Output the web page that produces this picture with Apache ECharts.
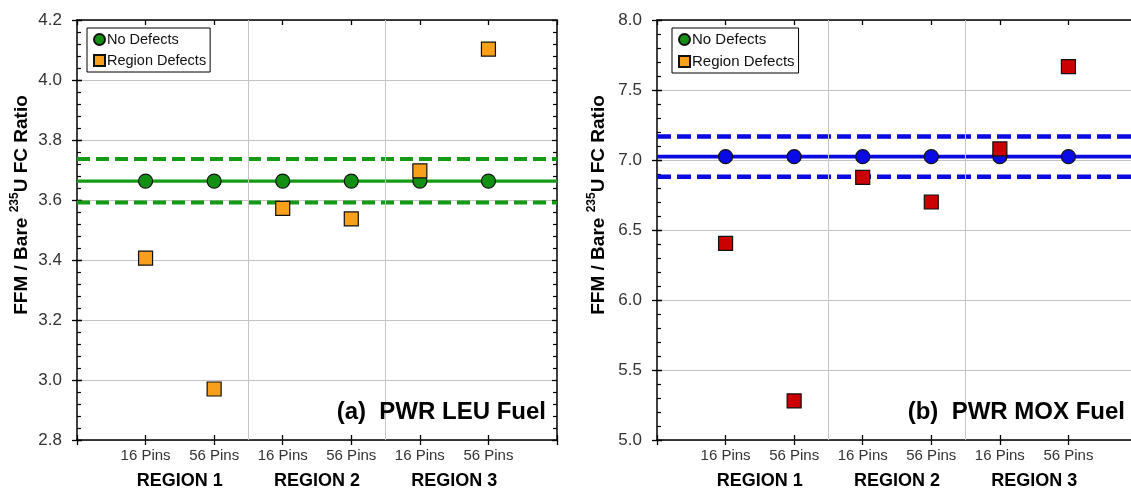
<!DOCTYPE html>
<html>
<head>
<meta charset="utf-8">
<script src="https://cdn.jsdelivr.net/npm/echarts@6/dist/echarts.min.js"></script>
<style>
html,body{margin:0;padding:0;background:#fff;}
#chart{width:1131px;height:492px;}
</style>
</head>
<body>
<div id="chart"></div>
<script>
// ---- data ----
const pinLabels = ['16 Pins', '56 Pins', '16 Pins', '56 Pins', '16 Pins', '56 Pins'];
const regionLabels = ['REGION 1', 'REGION 2', 'REGION 3'];
const xPositions = [1, 2, 3, 4, 5, 6];
const regionSeparators = [2.5, 4.5];

const leuNoDefects = [3.663, 3.663, 3.663, 3.663, 3.663, 3.663];
const leuRegionDefects = [3.406, 2.970, 3.572, 3.537, 3.697, 4.103];
const leuMean = 3.663, leuUpper = 3.737, leuLower = 3.592;
const leuYRange = [2.8, 4.2, 0.2];

const moxNoDefects = [7.024, 7.024, 7.024, 7.024, 7.024, 7.024];
const moxRegionDefects = [6.405, 5.279, 6.876, 6.700, 7.079, 7.667];
const moxMean = 7.024, moxUpper = 7.167, moxLower = 6.881;
const moxYRange = [5.0, 8.0, 0.5];

const FONT = '"Liberation Sans", Arial, sans-serif';

const chart = echarts.init(document.getElementById('chart'));

const xAxes = [], yAxes = [], series = [];

function addPanel(g, yRange, noDef, regDef, mean, upper, lower, cfg) {
  const xb = xAxes.length, yb = yAxes.length;
  const xMax = cfg.xMax;
  const baseX = {gridIndex: g, type: 'value', min: 0, max: xMax, interval: 1,
    splitLine: {show: false}, axisLine: {show: false}, axisTick: {show: false}, axisLabel: {show: false}};
  // bottom: outside ticks + pin labels
  xAxes.push(Object.assign({}, baseX, {position: 'bottom',
    axisLine: {show: true, onZero: false, lineStyle: {color: '#000', width: 1.5}},
    axisTick: {show: true, length: 5, lineStyle: {color: '#000', width: 1.3}},
    axisLabel: {show: true, margin: 8, fontSize: 15, color: '#333', fontFamily: FONT,
      formatter: v => { const k = Math.round(v); return (Math.abs(v - k) < 1e-6 && k >= 1 && k <= 6) ? pinLabels[k - 1] : ''; }}}));
  // bottom inside ticks
  xAxes.push(Object.assign({}, baseX, {position: 'bottom',
    axisTick: {show: true, inside: true, length: 5, lineStyle: {color: '#000', width: 1.3}}}));
  // top axis
  xAxes.push(Object.assign({}, baseX, {position: 'top',
    axisLine: {show: true, onZero: false, lineStyle: {color: '#000', width: 1.5}},
    axisTick: {show: true, inside: true, length: 5, lineStyle: {color: '#000', width: 1.3}}}));
  // region labels
  xAxes.push(Object.assign({}, baseX, {position: 'bottom', interval: 0.5,
    axisLabel: {show: true, margin: 32, fontSize: 18, fontWeight: 'bold', color: '#000', fontFamily: FONT,
      formatter: v => { const k = Math.round(v * 2); return (k % 4 === 3) ? regionLabels[(k - 3) / 4] : ''; }}}));

  const baseY = {gridIndex: g, type: 'value', min: yRange[0], max: yRange[1], interval: yRange[2],
    splitLine: {show: false}, axisLine: {show: false}, axisTick: {show: false}, axisLabel: {show: false}};
  yAxes.push(Object.assign({}, baseY, {position: 'left',
    axisLine: {show: true, onZero: false, lineStyle: {color: '#000', width: 1.5}},
    axisTick: {show: true, length: 5, lineStyle: {color: '#000', width: 1.3}},
    splitLine: {show: true, lineStyle: {color: '#c4c4c4', width: 1}},
    axisLabel: {show: true, margin: 15, fontSize: 17, color: '#333', fontFamily: FONT,
      formatter: v => v.toFixed(1)}}));
  yAxes.push(Object.assign({}, baseY, {position: 'left',
    axisTick: {show: true, inside: true, length: 5, lineStyle: {color: '#000', width: 1.3}},
    minorTick: {show: true, splitNumber: 5, length: 4, lineStyle: {color: '#000', width: 1.2}}}));
  yAxes.push(Object.assign({}, baseY, {position: 'right',
    axisLine: {show: true, onZero: false, lineStyle: {color: '#000', width: 1.5}},
    axisTick: {show: true, inside: true, length: 5, lineStyle: {color: '#000', width: 1.3}},
    minorTick: {show: true, splitNumber: 5, length: 4, lineStyle: {color: '#000', width: 1.2}}}));
  yAxes.push(Object.assign({}, baseY, {position: 'right',
    axisTick: {show: true, length: 5, lineStyle: {color: '#000', width: 1.3}}}));

  const ax = {xAxisIndex: xb, yAxisIndex: yb};
  // region separators
  series.push(Object.assign({type: 'line', name: 'sep', data: [], silent: true,
    markLine: {silent: true, symbol: 'none', label: {show: false},
      lineStyle: {color: '#c4c4c4', type: 'solid', width: 1},
      data: regionSeparators.map(s => ({xAxis: s}))}}, ax));
  const lineDef = (name, v, type, w) => Object.assign({type: 'line', name: name, silent: true,
    showSymbol: false, symbol: 'none', data: [[0, v], [xMax, v]],
    lineStyle: {color: cfg.lineColor, width: w, type: type}, z: 3}, ax);
  series.push(lineDef('upper', upper, cfg.dash, cfg.dashWidth));
  series.push(lineDef('lower', lower, cfg.dash, cfg.dashWidth));
  series.push(lineDef('mean', mean, 'solid', cfg.solidWidth));
  series.push(Object.assign({type: 'scatter', name: 'No Defects', symbol: 'circle', symbolSize: 14,
    data: xPositions.map((x, i) => [x, noDef[i]]),
    itemStyle: {color: cfg.circleColor, borderColor: '#111', borderWidth: 1.2, opacity: 1}, z: 4}, ax));
  series.push(Object.assign({type: 'scatter', name: 'Region Defects', symbol: 'rect', symbolSize: 14,
    data: xPositions.map((x, i) => [x, regDef[i]]),
    itemStyle: {color: cfg.squareColor, borderColor: '#111', borderWidth: 1.2, opacity: 1}, z: 5}, ax));
}

addPanel(0, leuYRange, leuNoDefects, leuRegionDefects, leuMean, leuUpper, leuLower,
  {xMax: 7, lineColor: '#159a15', circleColor: '#139013', squareColor: '#f8a01c', dash: [13, 6], dashWidth: 4, solidWidth: 3.2});
addPanel(1, moxYRange, moxNoDefects, moxRegionDefects, moxMean, moxUpper, moxLower,
  {xMax: 7, lineColor: '#0a0ae0', circleColor: '#0a0ae6', squareColor: '#cc0000', dash: [14, 6], dashWidth: 4.5, solidWidth: 3.8});

function yTitle(x) {
  return {type: 'text', x: x, y: 205, rotation: Math.PI / 2, z: 10,
    style: {text: '{b|FFM / Bare }{s|235}{b|U FC Ratio}', align: 'center', verticalAlign: 'middle',
      rich: {b: {fontSize: 19, fontWeight: 'bold', fontFamily: FONT, fill: '#000', lineHeight: 22, verticalAlign: 'bottom'},
             s: {fontSize: 12, fontWeight: 'bold', fontFamily: FONT, fill: '#000', lineHeight: 12, verticalAlign: 'top'}}}};
}

const legendBase = {orient: 'vertical', itemWidth: 11, itemHeight: 11, itemGap: 6,
  borderColor: '#000', borderWidth: 1, backgroundColor: '#fff', padding: [4, 4, 4, 6], itemStyle: {},
  textStyle: {fontFamily: FONT, color: '#111', padding: [0, 0, 0, -3]}, selectedMode: false,
  data: [{name: 'No Defects', icon: 'circle'}, {name: 'Region Defects', icon: 'rect'}]};

chart.setOption({
  backgroundColor: '#fff',
  animation: false,
  textStyle: {fontFamily: FONT},
  grid: [
    {left: 77, top: 20, width: 480, height: 420, containLabel: false, outerBoundsMode: 'none'},
    {left: 657, top: 20, width: 480, height: 420, containLabel: false, outerBoundsMode: 'none'}
  ],
  xAxis: xAxes,
  yAxis: yAxes,
  legend: [
    Object.assign({}, legendBase, {left: 87, top: 28, textStyle: Object.assign({}, legendBase.textStyle, {fontSize: 14.5})}),
    Object.assign({}, legendBase, {left: 672, top: 28, itemGap: 7, textStyle: Object.assign({}, legendBase.textStyle, {fontSize: 15})})
  ],
  title: [
    {text: '(a)  PWR LEU Fuel', right: 1131 - 546, top: 400, padding: 0,
      textStyle: {fontSize: 24, fontWeight: 'bold', color: '#000', fontFamily: FONT}},
    {text: '(b)  PWR MOX Fuel', right: 6, top: 400, padding: 0,
      textStyle: {fontSize: 24, fontWeight: 'bold', color: '#000', fontFamily: FONT}}
  ],
  graphic: [yTitle(20), yTitle(597)],
  series: series
});
</script>
</body>
</html>
